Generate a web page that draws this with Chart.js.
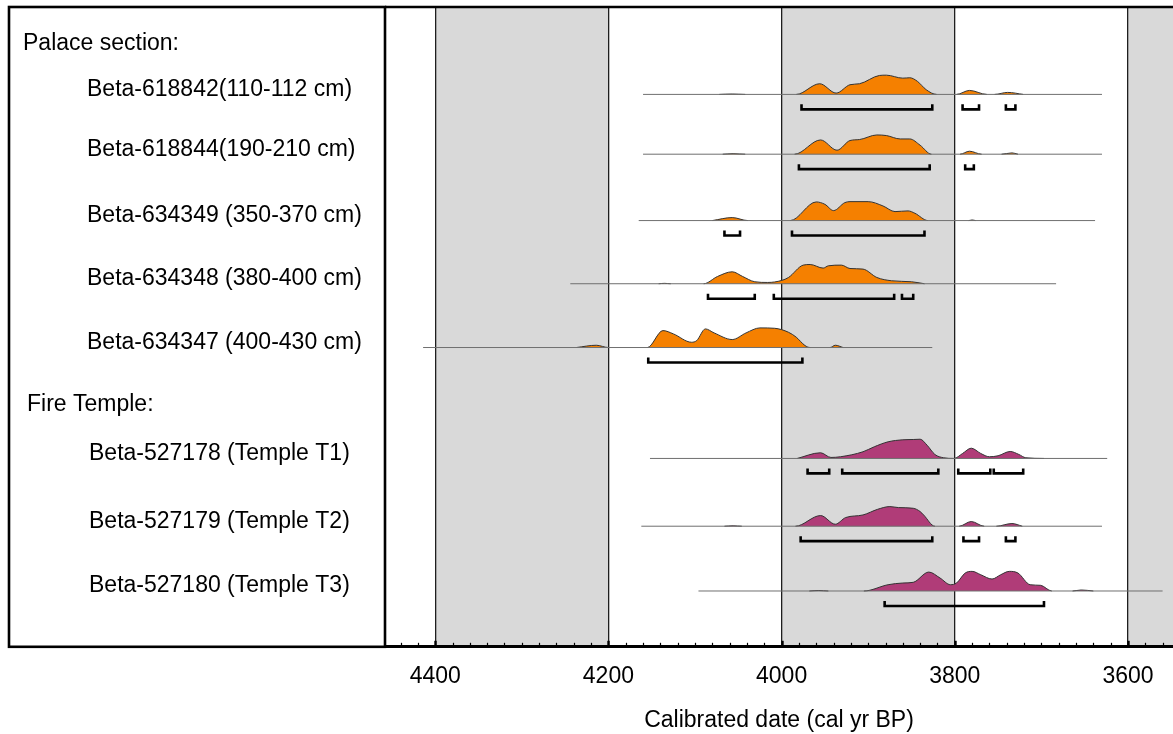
<!DOCTYPE html>
<html>
<head>
<meta charset="utf-8">
<title>Calibrated radiocarbon dates</title>
<script src="https://cdn.jsdelivr.net/npm/chart.js@4.4.1/dist/chart.umd.min.js"></script>
<style>
  html, body { margin: 0; padding: 0; background: #fff; }
  canvas { display: block; }
</style>
</head>
<body>
<canvas id="chart" width="1173" height="734"></canvas>
<script>
// ---------- data ----------
const groupTitles = ['Palace section:', 'Fire Temple:'];
const sampleLabels = [
  'Beta-618842(110-112 cm)',
  'Beta-618844(190-210 cm)',
  'Beta-634349 (350-370 cm)',
  'Beta-634348 (380-400 cm)',
  'Beta-634347 (400-430 cm)',
  'Beta-527178 (Temple T1)',
  'Beta-527179 (Temple T2)',
  'Beta-527180 (Temple T3)'
];
const sampleGroup = [0, 0, 0, 0, 0, 1, 1, 1];

// span of each calibrated distribution, [old, young] cal yr BP
const calExtent = [
  [4160, 3630], [4160, 3630], [4165, 3638], [4244, 3683],
  [4414, 3826], [4152, 3624], [4162, 3630], [4096, 3560]
];

// relative probability, [cal yr BP, density]
const density618842 = [
  [4072, 0], [4057, 0.4], [4042, 0],
  [3983, 0], [3956, 10.7], [3937, 1.3], [3921, 9.7], [3910, 10.7], [3887, 19], [3879, 19.3],
  [3860, 16.3], [3852, 16.7], [3843, 13], [3833, 4.7], [3821, 0],
  [3798, 0], [3783, 4], [3763, 0],
  [3754, 0], [3739, 2], [3721, 0]
];
const density618844 = [
  [4068, 0], [4056, 0.5], [4042, 0],
  [3985, 0], [3955, 14.3], [3936, 4], [3921, 13.7], [3910, 14.7], [3890, 19.3], [3879, 18.7],
  [3863, 15.3], [3852, 15.3], [3840, 9], [3827, 0],
  [3794, 0], [3783, 3], [3769, 0],
  [3746, 0], [3734, 1.3], [3727, 0]
];
const density634349 = [
  [4080, 0], [4057, 3], [4039, 0],
  [3990, 0], [3960, 18.7], [3950, 16.3], [3940, 10], [3927, 18], [3921, 19], [3900, 19],
  [3883, 14.7], [3869, 9], [3854, 9.7], [3846, 7.3], [3831, 0],
  [3784, 0], [3780, 0.6], [3776, 0]
];
const density634348 = [
  [4142, 0], [4135, 0.4], [4128, 0],
  [4090, 0], [4074, 7.3], [4057, 12], [4045, 7.3], [4031, 2], [4016, 1.3], [4000, 3.3],
  [3992, 6.3], [3975, 18.7], [3967, 19.3], [3952, 15.7], [3946, 18], [3931, 18.7],
  [3921, 15.3], [3906, 14.7], [3890, 6.3], [3873, 3], [3850, 2], [3835, 0]
];
const density634347 = [
  [4237, 0], [4214, 2.3], [4200, 0],
  [4155, 0], [4137, 17], [4125, 13.7], [4104, 5.3], [4098, 7], [4088, 18.7], [4078, 14.7],
  [4057, 8], [4041, 14.7], [4025, 19.7], [4008, 19.3], [3992, 15.3], [3983, 10.3], [3973, 2], [3967, 0],
  [3944, 0], [3938, 2.3], [3929, 0]
];
const density527178 = [
  [3982, 0], [3955, 5.7], [3943, 1], [3932, 1.7], [3906, 6.7], [3893, 11.7], [3877, 16.7],
  [3860, 18.7], [3848, 19], [3840, 19.3], [3832, 13.3], [3823, 4], [3813, 0.7], [3801, 0],
  [3791, 5], [3781, 10.3], [3770, 5], [3760, 1.7], [3750, 2.7], [3736, 7], [3726, 4], [3718, 0.7], [3697, 0]
];
const density527179 = [
  [4066, 0], [4056, 0.4], [4046, 0],
  [3984, 0], [3955, 10.7], [3938, 2], [3926, 8.7], [3906, 11.3], [3889, 17], [3875, 19.7],
  [3865, 18.7], [3848, 18], [3840, 14.7], [3836, 11.3], [3823, 0],
  [3795, 0], [3781, 4.7], [3766, 0],
  [3752, 0], [3734, 2.7], [3722, 0]
];
const density527180 = [
  [3968, 0], [3957, 0.5], [3946, 0],
  [3905, 0], [3877, 6.3], [3860, 8], [3848, 8.7], [3830, 19], [3817, 13], [3805, 6.3], [3798, 8],
  [3788, 18], [3780, 19.7], [3770, 16.3], [3757, 12], [3747, 16.3], [3737, 19.7], [3727, 18],
  [3713, 6.3], [3701, 5.7], [3688, 0],
  [3664, 0], [3654, 1], [3640, 0]
];
const densities = [
  density618842, density618844, density634349, density634348,
  density634347, density527178, density527179, density527180
];

// 2-sigma calibrated ranges, [from, to] cal yr BP
const range618842 = [[3977, 3826], [3791, 3772], [3741, 3730]];
const range618844 = [[3980, 3829], [3788, 3778]];
const range634349 = [[4066, 4048], [3988, 3835]];
const range634348 = [[4085, 4031], [4009, 3870], [3861, 3848]];
const range634347 = [[4154, 3976]];
const range527178 = [[3970, 3945], [3930, 3819], [3796, 3759], [3755, 3721]];
const range527179 = [[3978, 3826], [3790, 3772], [3741, 3730]];
const range527180 = [[3881, 3697]];
const sigmaRanges = [
  range618842, range618844, range634349, range634348,
  range634347, range527178, range527179, range527180
];

const majorTicks = [4400, 4200, 4000, 3800, 3600];
const xAxisTitle = 'Calibrated date (cal yr BP)';
const shadedBands = [[4400, 4200], [4000, 3800], [3600, 3400]];

// ---------- layout & style ----------
const X_MIN = 3548, X_MAX = 4458;
const MINOR_STEP = 20;
const PLOT_UNITS = 642;                       // vertical plot units (about 1 px each, from the top)
const rowBase = [87.7, 147.7, 214.3, 277.7, 341.7, 453, 521, 586];
const groupTitleBase = [43, 405];
const GROUP_X = [23, 27];
const LABEL_X = [87, 89];
const PANEL_LEFT = 9;
const RANGE_DROP = 15, RANGE_TICK = 5;
const groupColors = ['#F58000', '#B03C78'];
const FONT = "'Liberation Sans', Arial, Helvetica, sans-serif";

// ---------- datasets ----------
const datasets = [];
sampleLabels.forEach((name, i) => {
  const base = rowBase[i];
  const pts = densities[i]
    .map(([yr, p]) => ({ x: yr, y: base - p, p }))
    .sort((a, b) => a.x - b.x);
  datasets.push({
    label: name,
    data: pts,
    order: 3,
    backgroundColor: groupColors[sampleGroup[i]],
    borderColor: '#333',
    borderWidth: 1,
    fill: { value: base },
    cubicInterpolationMode: 'monotone',
    pointRadius: 0,
    segment: {
      borderColor: c => (pts[c.p0DataIndex].p === 0 && pts[c.p1DataIndex].p === 0) ? 'rgba(0,0,0,0)' : undefined
    }
  });
  datasets.push({
    label: name + ' span',
    data: calExtent[i].map(yr => ({ x: yr, y: base })),
    order: 2,
    borderColor: '#6f6f6f',
    borderWidth: 1,
    fill: false,
    pointRadius: 0
  });
  const bar = [];
  sigmaRanges[i].forEach(([from, to], k) => {
    if (k) bar.push({ x: from, y: null });
    const yb = base + RANGE_DROP;
    bar.push({ x: from, y: yb - RANGE_TICK }, { x: from, y: yb }, { x: to, y: yb }, { x: to, y: yb - RANGE_TICK });
  });
  datasets.push({
    label: name + ' 2σ',
    data: bar,
    order: 1,
    borderColor: '#000',
    borderWidth: 2.6,
    borderJoinStyle: 'miter',
    borderCapStyle: 'butt',
    spanGaps: false,
    fill: false,
    pointRadius: 0,
    tension: 0
  });
});

// ---------- drawing helpers ----------
const panelPlugin = {
  id: 'panel',
  beforeDraw(chart) {
    const { ctx, chartArea: a, scales: { x } } = chart;
    ctx.save();
    ctx.beginPath();
    ctx.rect(a.left, a.top, a.right - a.left, a.bottom - a.top);
    ctx.clip();
    ctx.fillStyle = '#D9D9D9';
    for (const [from, to] of shadedBands) {
      const x1 = x.getPixelForValue(from), x2 = x.getPixelForValue(to);
      ctx.fillRect(Math.min(x1, x2), a.top, Math.abs(x2 - x1), a.bottom - a.top);
    }
    ctx.restore();
  },
  afterDraw(chart) {
    const { ctx, chartArea: a, scales: { x, y } } = chart;
    ctx.save();
    // tick marks standing on the axis line
    ctx.strokeStyle = '#000';
    const first = Math.ceil(X_MIN / MINOR_STEP) * MINOR_STEP;
    for (let v = first; v <= X_MAX; v += MINOR_STEP) {
      const major = v % 200 === 0;
      const px = Math.round(x.getPixelForValue(v)) + 0.5;
      ctx.lineWidth = major ? 2.4 : 1.2;
      ctx.beginPath();
      ctx.moveTo(px, a.bottom);
      ctx.lineTo(px, a.bottom - (major ? 6 : 4));
      ctx.stroke();
    }
    // frame: label panel and top edge
    ctx.lineWidth = 2.6;
    ctx.strokeRect(PANEL_LEFT, a.top, a.left - PANEL_LEFT, a.bottom - a.top);
    ctx.beginPath();
    ctx.moveTo(a.left, a.top);
    ctx.lineTo(chart.width, a.top);
    ctx.stroke();
    // labels
    ctx.fillStyle = '#000';
    ctx.font = '23px ' + FONT;
    ctx.textAlign = 'left';
    ctx.textBaseline = 'alphabetic';
    groupTitles.forEach((t, g) => ctx.fillText(t, GROUP_X[g], y.getPixelForValue(groupTitleBase[g])));
    sampleLabels.forEach((t, i) => ctx.fillText(t, LABEL_X[sampleGroup[i]], y.getPixelForValue(rowBase[i]) + 1.5));
    ctx.restore();
  }
};

new Chart(document.getElementById('chart'), {
  type: 'line',
  data: { datasets },
  plugins: [panelPlugin],
  options: {
    responsive: false,
    animation: false,
    devicePixelRatio: 1,
    events: [],
    layout: { padding: { left: 385, right: 0, top: 7, bottom: 0 } },
    plugins: { legend: { display: false }, tooltip: { enabled: false } },
    scales: {
      x: {
        type: 'linear',
        reverse: true,
        min: X_MIN,
        max: X_MAX,
        z: 1,
        afterBuildTicks: s => { s.ticks = majorTicks.map(v => ({ value: v })); },
        ticks: {
          autoSkip: false,
          maxRotation: 0,
          padding: 16,
          color: '#000',
          font: { family: FONT, size: 23 },
          callback: v => String(v)
        },
        grid: { color: '#1e1e1e', lineWidth: 1.3, drawTicks: false, drawOnChartArea: true },
        border: { display: true, color: '#000', width: 3 },
        title: {
          display: true,
          text: xAxisTitle,
          color: '#000',
          font: { family: FONT, size: 23 },
          padding: { top: 0, bottom: 0 }
        }
      },
      y: {
        type: 'linear',
        display: false,
        reverse: true,
        min: 0,
        max: PLOT_UNITS
      }
    }
  }
});
</script>
</body>
</html>
